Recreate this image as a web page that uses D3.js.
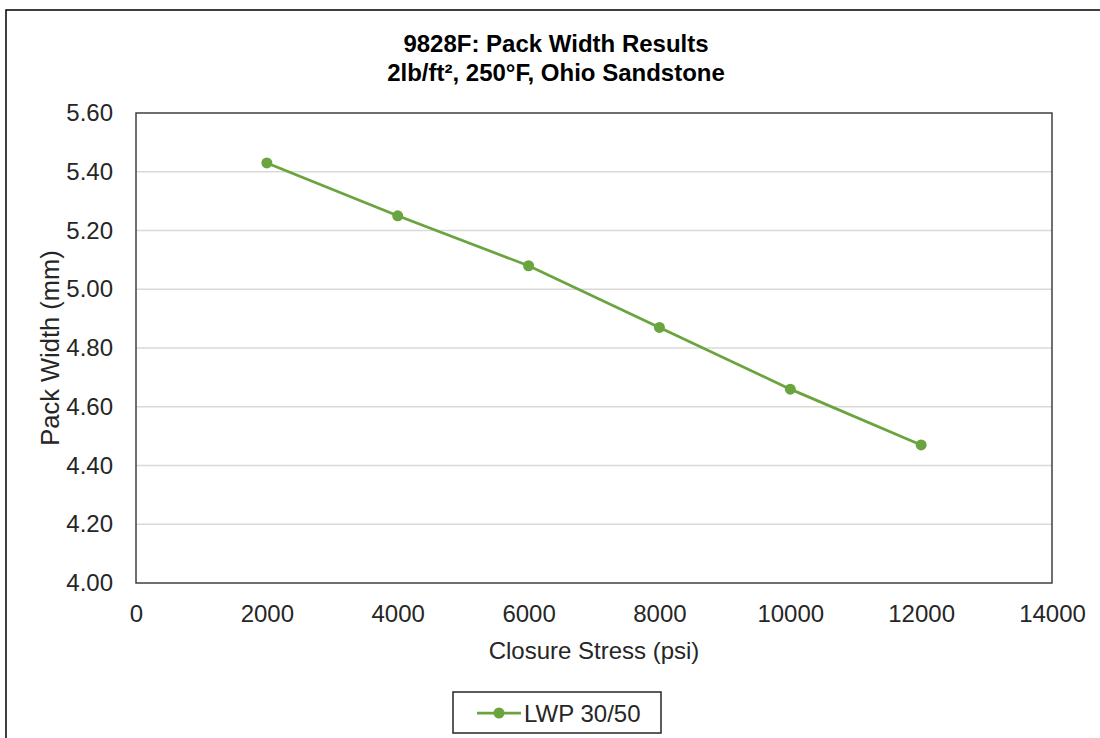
<!DOCTYPE html>
<html>
<head>
<meta charset="utf-8">
<script src="https://cdn.jsdelivr.net/npm/d3@7"></script>
<style>
  body { margin: 0; background: #fff; }
  svg text { font-family: "Liberation Sans", Arial, sans-serif; }
</style>
</head>
<body>
<svg id="chart" width="1100" height="738"></svg>
<script>
// data
const stress = [2000, 4000, 6000, 8000, 10000, 12000];
const packWidth = [5.43, 5.25, 5.08, 4.87, 4.66, 4.47];
const seriesName = "LWP 30/50";
const xTicks = [0, 2000, 4000, 6000, 8000, 10000, 12000, 14000];
const yTicks = [4.0, 4.2, 4.4, 4.6, 4.8, 5.0, 5.2, 5.4, 5.6];

const svg = d3.select("#chart");
const green = "#6aa43f";
const textCol = "#262626";
const plot = {left: 136, top: 113, right: 1052, bottom: 583};

// outer chart frame (runs off right and bottom edge)
svg.append("rect")
    .attr("x", 6).attr("y", 10)
    .attr("width", 1120).attr("height", 760)
    .attr("fill", "#fff")
    .attr("stroke", "#000")
    .attr("stroke-width", 1.5);

const x = d3.scaleLinear().domain([0, 14000]).range([plot.left, plot.right]);
const y = d3.scaleLinear().domain([4.0, 5.6]).range([plot.bottom, plot.top]);

// gridlines
svg.append("g")
    .selectAll("line")
    .data(yTicks.slice(1, -1))
    .join("line")
    .attr("x1", plot.left).attr("x2", plot.right)
    .attr("y1", d => y(d)).attr("y2", d => y(d))
    .attr("stroke", "#d9d9d9")
    .attr("stroke-width", 1.5);

// plot border
svg.append("rect")
    .attr("x", plot.left).attr("y", plot.top)
    .attr("width", plot.right - plot.left)
    .attr("height", plot.bottom - plot.top)
    .attr("fill", "none")
    .attr("stroke", "#404040")
    .attr("stroke-width", 1.5);

// axes
const xAxis = svg.append("g")
    .attr("transform", `translate(0, ${plot.bottom})`)
    .call(d3.axisBottom(x).tickValues(xTicks).tickFormat(d3.format("d")).tickSize(0).tickPadding(22));
const yAxis = svg.append("g")
    .attr("transform", `translate(${plot.left}, 0)`)
    .call(d3.axisLeft(y).tickValues(yTicks).tickFormat(d3.format(".2f")).tickSize(0).tickPadding(23));
[xAxis, yAxis].forEach(a => {
    a.select(".domain").remove();
    a.selectAll("text")
        .attr("font-size", "24px")
        .attr("fill", textCol)
        .style("font-family", "'Liberation Sans', Arial, sans-serif");
});

// series line and markers
const line = d3.line()
    .x((d, i) => x(stress[i]))
    .y(d => y(d));
svg.append("path")
    .datum(packWidth)
    .attr("d", line)
    .attr("fill", "none")
    .attr("stroke", green)
    .attr("stroke-width", 2.75);
svg.append("g")
    .selectAll("circle")
    .data(packWidth)
    .join("circle")
    .attr("cx", (d, i) => x(stress[i]))
    .attr("cy", d => y(d))
    .attr("r", 5.5)
    .attr("fill", green);

// titles
const title = svg.append("text")
    .attr("text-anchor", "middle")
    .attr("font-size", "24px")
    .attr("font-weight", "bold")
    .attr("fill", "#000");
title.append("tspan").attr("x", 556).attr("y", 52).text("9828F: Pack Width Results");
title.append("tspan").attr("x", 556).attr("y", 81).text("2lb/ft², 250°F, Ohio Sandstone");

svg.append("text")
    .attr("x", (plot.left + plot.right) / 2)
    .attr("y", 659)
    .attr("text-anchor", "middle")
    .attr("font-size", "24px")
    .attr("fill", textCol)
    .text("Closure Stress (psi)");

svg.append("text")
    .attr("transform", `translate(59, ${(plot.top + plot.bottom) / 2}) rotate(-90)`)
    .attr("text-anchor", "middle")
    .attr("font-size", "25.5px")
    .attr("fill", textCol)
    .text("Pack Width (mm)");

// legend
const legend = svg.append("g").attr("transform", "translate(453, 692)");
legend.append("rect")
    .attr("width", 208).attr("height", 41)
    .attr("fill", "#fff")
    .attr("stroke", textCol)
    .attr("stroke-width", 1.5);
legend.append("line")
    .attr("x1", 24).attr("x2", 68)
    .attr("y1", 21).attr("y2", 21)
    .attr("stroke", green)
    .attr("stroke-width", 2.75);
legend.append("circle")
    .attr("cx", 46).attr("cy", 21).attr("r", 5.5)
    .attr("fill", green);
legend.append("text")
    .attr("x", 71).attr("y", 30)
    .attr("font-size", "24px")
    .attr("fill", textCol)
    .text(seriesName);
</script>
</body>
</html>
